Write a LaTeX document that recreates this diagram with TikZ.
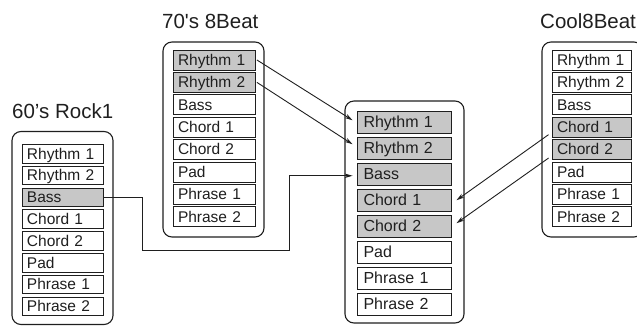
\documentclass[tikz,border=0pt]{standalone}
\usepackage{fontspec}
\setmainfont{Liberation Sans}
\usetikzlibrary{arrows.meta}
\colorlet{shade}{black!22}
\colorlet{ink}{black!88}
\begin{document}
\begin{tikzpicture}[x=1pt,y=-1pt,
  cell/.style={draw=ink, line width=0.9pt, rectangle, inner xsep=5pt, inner ysep=0pt,
    align=left, text=ink, font=\fontsize{15.5}{18}\selectfont, text height=11.5pt, text depth=1pt},
  bigcell/.style={cell, font=\fontsize{16}{19}\selectfont, inner xsep=6.5pt},
  holder/.style={draw=ink, line width=1.1pt, rectangle, rounded corners=9pt, inner sep=0pt},
  title/.style={anchor=base west, text=ink, font=\fontsize{20.5}{23}\selectfont, inner sep=0pt},
  arr/.style={draw=ink, line width=0.9pt, -{Stealth[length=8pt,width=4.5pt]}},
]
\useasboundingbox (0,0) rectangle (637,325);

% containers
\node[holder, minimum width=101, minimum height=193] (A) at (62.5,228) {};
\node[holder, minimum width=101, minimum height=195] (B) at (213.5,139.5) {};
\node[holder, minimum width=119, minimum height=222] (C) at (404.5,212) {};
\node[holder, minimum width=101, minimum height=195] (D) at (592.5,139.5) {};

% titles
\node[title] (tA) at (12,118) {60’s Rock1};
\node[title] (tB) at (162,28) {70\textquotesingle s 8Beat};
\node[title] (tD) at (540,28) {Cool8Beat};

% 60's Rock1
\foreach \t/\f [count=\i] in {Rhythm 1/white,Rhythm 2/white,Bass/shade,Chord 1/white,Chord 2/white,Pad/white,Phrase 1/white,Phrase 2/white}
  \node[cell, fill=\f, text width=71pt, minimum height=18.5pt] (a\i) at (62.5,{153.75+(\i-1)*21.8}) {\mbox{\t}};
% 70's 8Beat
\foreach \t/\f [count=\i] in {Rhythm 1/shade,Rhythm 2/shade,Bass/white,Chord 1/white,Chord 2/white,Pad/white,Phrase 1/white,Phrase 2/white}
  \node[cell, fill=\f, text width=72pt, minimum height=20pt] (b\i) at (214,{60+(\i-1)*22.4}) {\mbox{\t}};
% centre
\foreach \t/\f [count=\i] in {Rhythm 1/shade,Rhythm 2/shade,Bass/shade,Chord 1/shade,Chord 2/shade,Pad/white,Phrase 1/white,Phrase 2/white}
  \node[bigcell, fill=\f, text width=81pt, minimum height=22.5pt] (c\i) at (404,{122.25+(\i-1)*26}) {\mbox{\t}};
% Cool8Beat
\foreach \t/\f [count=\i] in {Rhythm 1/white,Rhythm 2/white,Bass/white,Chord 1/shade,Chord 2/shade,Pad/white,Phrase 1/white,Phrase 2/white}
  \node[cell, fill=\f, text width=69pt, minimum height=20pt] (d\i) at (591.5,{60+(\i-1)*22.4}) {\mbox{\t}};

% connectors
\draw[arr] ([xshift=1.5pt]b1.east) -- ([xshift=-4pt,yshift=2pt]c1.west);
\draw[arr] ([xshift=1.5pt]b2.east) -- ([xshift=-4pt,yshift=4pt]c2.west);

\coordinate (k1) at (142,250);
\coordinate (k2) at (289,250);
\draw[arr] (a3.east) -| (k1) -- (k2) |- ([xshift=-4pt,yshift=-1.5pt]c3.west);

\draw[arr] ([xshift=-3pt,yshift=3pt]d4.south west) -- ([xshift=5pt]c4.east);
\draw[arr] ([xshift=-3pt,yshift=2pt]d5.south west) -- ([xshift=5pt,yshift=3pt]c5.east);
\end{tikzpicture}
\end{document}
